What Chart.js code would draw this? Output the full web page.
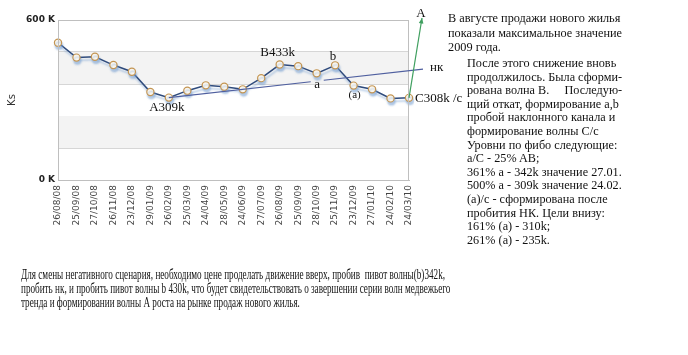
<!DOCTYPE html>
<html><head><meta charset="utf-8">
<script src="https://cdn.jsdelivr.net/npm/chart.js@4.4.1/dist/chart.umd.min.js"></script>
<style>
html,body{margin:0;padding:0;background:#fff;width:688px;height:355px;overflow:hidden;}
#wrap{position:absolute;left:0;top:0;width:688px;height:355px;}
.txt{position:absolute;font-family:"Liberation Serif","Times New Roman",serif;color:#111;white-space:pre;transform-origin:0 0;}
#t1{left:448px;top:11px;font-size:13.5px;line-height:14.5px;}
#t2{left:467px;top:56px;font-size:13.5px;line-height:13.6px;}
#t3{left:21px;top:268px;font-size:14px;line-height:13.8px;}
</style></head>
<body>
<div id="wrap"><canvas id="c" width="688" height="355"></canvas></div>
<div class="txt" id="t1">В августе продажи нового жилья
<span id="r1">показали максимальное значение</span>
2009 года.</div>
<div class="txt" id="t2">После этого снижение вновь
<span id="r2">продолжилось. Была сформи-</span>
рована волна В.     Последую-
щий откат, формирование a,b
пробой наклонного канала и
формирование волны С/с
Уровни по фибо следующие:
a/C - 25% AB;
361% a - 342k значение 27.01.
500% a - 309k значение 24.02.
(a)/c - сформирована после
пробития НК. Цели внизу:
161% (a) - 310k;
261% (a) - 235k.</div>
<div class="txt" id="t3"><span id="l1">Для смены негативного сценария, необходимо цене проделать движение вверх, пробив  пивот волны(b)342k,</span>
пробить нк, и пробить пивот волны b 430k, что будет свидетельствовать о завершении серии волн медвежьего
тренда и формировании волны А роста на рынке продаж нового жилья.</div>
<script>
const categories = ["26/08/08","25/09/08","27/10/08","26/11/08","23/12/08","29/01/09","26/02/09","25/03/09","24/04/09","28/05/09","24/06/09","27/07/09","26/08/09","25/09/09","28/10/09","25/11/09","23/12/09","27/01/10","24/02/10","24/03/10"];
const sales = [515,459,462,431,406,330,309,335,355,350,340,382,433,427,400,430,354,340,306,308];
const yTickLabels = {0:"0 K",600:"600 K"};
const waveLabels = [
  {idx:6, text:"A309k", dx:-2, dy:10, align:"center", size:13},
  {idx:12, text:"B433k", dx:-2, dy:-12, align:"center", size:13},
  {idx:15, text:"b", dx:-2, dy:-9, align:"center", size:13},
  {idx:16, text:"(a)", dx:1, dy:10, align:"center", size:11},
  {idx:19, text:"C308k /c", dx:6, dy:1, align:"left", size:13}
];
const trendFrom = 6, trendThrough = 10;

function fit(spanId, blockId, target){
  const w = document.getElementById(spanId).getBoundingClientRect().width;
  document.getElementById(blockId).style.transform = 'scaleX(' + (target / w) + ')';
}
fit('l1','t3',424);
fit('r1','t1',174);
fit('r2','t2',155);

const deco = {
  id:'deco',
  beforeDatasetsDraw(chart){
    const {ctx, chartArea:a, scales:{y}} = chart;
    ctx.save();
    ctx.fillStyle = '#f3f3f3';
    [[120,240],[360,480]].forEach(([lo,hi])=>{
      const t = y.getPixelForValue(hi), b = y.getPixelForValue(lo);
      ctx.fillRect(a.left, t, a.right-a.left, b-t);
    });
    ctx.restore();
  },
  beforeDatasetDraw(chart){
    const ctx = chart.ctx;
    ctx.save();
    ctx.shadowColor = 'rgba(120,160,210,0.55)';
    ctx.shadowOffsetY = 3;
    ctx.shadowOffsetX = 1;
    ctx.shadowBlur = 2;
  },
  afterDatasetDraw(chart){ chart.ctx.restore(); },
  afterDraw(chart){
    const {ctx, chartArea:a, scales:{x,y}} = chart;
    const px = i => x.getPixelForValue(i);
    const py = i => y.getPixelForValue(sales[i]);
    ctx.save();
    ctx.strokeStyle = '#bfbfbf';
    ctx.lineWidth = 1;
    ctx.strokeRect(a.left+0.5, a.top+0.5, a.right-a.left-1, a.bottom-a.top);
    const x0 = px(trendFrom), y0 = py(trendFrom);
    const x1 = px(trendThrough), y1 = py(trendThrough);
    const slope = (y1-y0)/(x1-x0);
    const xe = a.right + 14, ye = y0 + slope*(xe-x0);
    const gx0 = x1 + 68, gx1 = x1 + 81;
    ctx.strokeStyle = '#4f5f9f';
    ctx.lineWidth = 1.2;
    ctx.beginPath();
    ctx.moveTo(x0, y0); ctx.lineTo(gx0, y0 + slope*(gx0-x0));
    ctx.moveTo(gx1, y0 + slope*(gx1-x0)); ctx.lineTo(xe, ye);
    ctx.stroke();
    ctx.fillStyle = '#111';
    ctx.font = '13px "Liberation Serif", serif';
    ctx.textBaseline = 'middle';
    ctx.textAlign = 'center';
    const ga = (gx0+gx1)/2;
    ctx.fillText('a', ga, y0 + slope*(ga-x0) + 4);
    ctx.textAlign = 'left';
    ctx.fillText('нк', xe + 7, ye - 2);
    const cx = px(19), cy = py(19);
    const ax = a.right + 13, ay = a.top - 2;
    ctx.strokeStyle = '#3f9f5f';
    ctx.fillStyle = '#3f9f5f';
    ctx.lineWidth = 1.2;
    ctx.beginPath(); ctx.moveTo(cx, cy); ctx.lineTo(ax, ay); ctx.stroke();
    const ang = Math.atan2(ay-cy, ax-cx);
    ctx.beginPath();
    ctx.moveTo(ax, ay);
    ctx.lineTo(ax - 6*Math.cos(ang-0.4), ay - 6*Math.sin(ang-0.4));
    ctx.lineTo(ax - 6*Math.cos(ang+0.4), ay - 6*Math.sin(ang+0.4));
    ctx.closePath(); ctx.fill();
    ctx.fillStyle = '#111';
    ctx.textAlign = 'center';
    ctx.font = '13px "Liberation Serif", serif';
    ctx.fillText('A', ax - 1, ay - 4);
    waveLabels.forEach(l=>{
      ctx.font = l.size + 'px "Liberation Serif", serif';
      ctx.textAlign = l.align;
      ctx.fillText(l.text, px(l.idx)+l.dx, py(l.idx)+l.dy);
    });
    ctx.restore();
  }
};

new Chart(document.getElementById('c'), {
  type:'line',
  data:{labels:categories, datasets:[{
    data:sales,
    borderColor:'#2f4b7c',
    borderWidth:1.5,
    tension:0,
    pointRadius:3.6,
    pointBorderWidth:1.2,
    pointBorderColor:'#c39553',
    pointBackgroundColor:'#fffaf0',
    fill:false
  }]},
  options:{
    responsive:false,
    animation:false,
    layout:{padding:{left:0,top:20,right:279,bottom:0}},
    plugins:{legend:{display:false},tooltip:{enabled:false}},
    scales:{
      x:{
        offset:false,
        grid:{display:false},
        border:{color:'#bfbfbf'},
        ticks:{minRotation:90,maxRotation:90,autoSkip:false,color:'#444',font:{family:'DejaVu Sans',size:9},padding:-3},
        afterFit(s){ s.height = 175; }
      },
      y:{
        min:0,max:600,
        grid:{color:'#d6d6d6',drawTicks:false},
        border:{color:'#bfbfbf'},
        ticks:{stepSize:120,color:'#222',font:{family:'DejaVu Sans',size:9,weight:'bold'},padding:3,
          callback:v=> (v in yTickLabels) ? yTickLabels[v] : ''},
        title:{display:true,text:'Ks',color:'#333',font:{family:'DejaVu Sans',size:10},padding:{top:6,bottom:0}},
        afterFit(s){ s.width = 58; }
      }
    }
  },
  plugins:[deco]
});
</script>
</body></html>
